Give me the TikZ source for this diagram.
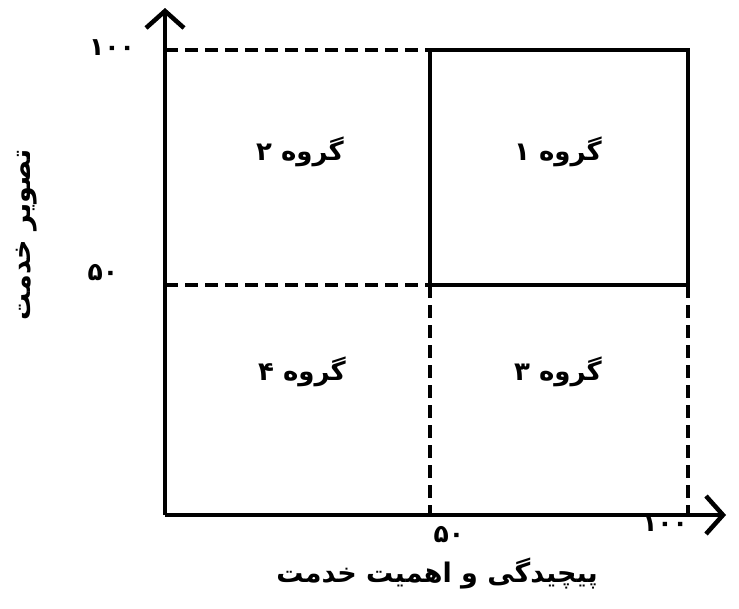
\documentclass[tikz,border=0pt]{standalone}
\usepackage{fontspec}
\usetikzlibrary{arrows.meta}
\TeXXeTstate=1
\newfontfamily\fa[Script=Arabic]{DejaVu Sans}
\tikzset{
  axisline/.style={line width=4.5pt,-{Straight Barb[length=17pt,width=38pt,line width=4.5pt]}},
  solidline/.style={line width=3.8pt},
  dashline/.style={line width=3.8pt,dash pattern=on 13pt off 7pt},
  grp/.style={font=\fa\fontsize{26}{30}\selectfont\bfseries},
  num/.style={font=\fa\fontsize{25}{28}\selectfont\bfseries},
  axlabel/.style={font=\fa\fontsize{27}{31}\selectfont\bfseries}
}
\begin{document}
\begin{tikzpicture}[x=1pt,y=-1pt]
\useasboundingbox (0,0) rectangle (739,608);
\coordinate (O) at (165,515);
\coordinate (Ytip) at (165,8);
\coordinate (Xtip) at (726,515);
\coordinate (TL) at (165,50);
\coordinate (TM) at (430,50);
\coordinate (TR) at (688,50);
\coordinate (ML) at (165,285);
\coordinate (MM) at (430,285);
\coordinate (MR) at (688,285);
\coordinate (BM) at (430,515);
\coordinate (BR) at (688,515);
% dashed lines
\draw[dashline] (TL) -- (TM);
\draw[dashline] (ML) -- (MM);
\draw[dashline] (MM) -- (BM);
\draw[dashline] (MR) -- (BR);
% solid box (group 1)
\draw[solidline] (TM) -- (TR) -- (MR) -- (MM) -- cycle;
% axes
\draw[axisline] (O) -- (Ytip);
\draw[axisline] (O) -- (Xtip);
% group labels
\node[grp] (g1) at (558,152) {\beginR گروه ۱\endR};
\node[grp] (g2) at (300,152) {\beginR گروه ۲\endR};
\node[grp] (g3) at (558,372) {\beginR گروه ۳\endR};
\node[grp] (g4) at (302,372) {\beginR گروه ۴\endR};
% tick numbers
\node[num] (y100) at (112,48) {۱۰۰};
\node[num] (y50) at (103,273) {۵۰};
\node[num] (x50) at (449,535) {۵۰};
\node[num] (x100) at (665,524) {۱۰۰};
% axis labels
\node[axlabel] (xlab) at (437,574) {\beginR پیچیدگی و اهمیت خدمت\endR};
\node[axlabel,rotate=90] (ylab) at (27,235) {\beginR تصویر خدمت\endR};
\end{tikzpicture}
\end{document}
